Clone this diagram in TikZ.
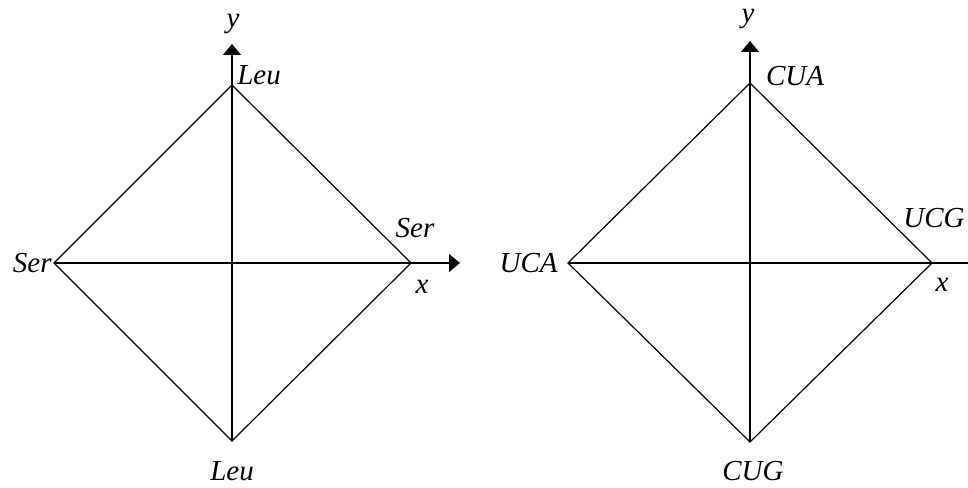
\documentclass[tikz,border=0pt]{standalone}
\usepackage{fontspec}
\setmainfont{Liberation Serif}
\usetikzlibrary{arrows.meta,positioning}
\begin{document}
\begin{tikzpicture}[x=0.5pt, y=0.5pt, every node/.style={font=\fontsize{14.5}{17}\selectfont\itshape, inner sep=1pt}, edge/.style={line width=0.6pt}, axis/.style={line width=0.7pt, -{Triangle[length=5.5pt, width=9pt]}}]
	\useasboundingbox (-232,-224) rectangle (736,263);
	% amino acids
	\coordinate (lt) at (0,178); \coordinate (lb) at (0,-178); \coordinate (ll) at (-178,0); \coordinate (lr) at (179,0);
	\coordinate (ly) at (0,219); \coordinate (lx) at (228,0);
	\draw[edge] (ll) -- (lt) -- (lr) -- (lb) -- cycle;
	\draw[axis] (lb) -- (ly); \draw[axis] (ll) -- (lx);
	\node (ylab1) at (1,239) {y}; \node (xlab1) at (190,-24) {x};
	\node (leut) at (27,188) {Leu}; \node (leub) at (0,-208) {Leu};
	\node[left=0pt of ll] (serl) {Ser}; \node (serr) at (183,35) {Ser};
	\begin{scope}[shift={(518,0)}]
		% codons
		\coordinate (rt) at (0,180); \coordinate (rb) at (0,-179); \coordinate (rl) at (-182,0); \coordinate (rr) at (182,0);
		\coordinate (ry) at (0,222); \coordinate (rx) at (250,0);
		\draw[edge] (rl) -- (rt) -- (rr) -- (rb) -- cycle;
		\draw[axis] (rb) -- (ry); \draw[axis] (rl) -- (rx);
		\node (ylab2) at (-2,244) {y}; \node (xlab2) at (192,-22) {x};
		\node (cua) at (45,187) {CUA}; \node (cug) at (3,-208) {CUG};
		\node[left=4pt of rl] (uca) {UCA}; \node (ucg) at (184,45) {UCG};
	\end{scope}
\end{tikzpicture}
\end{document}
